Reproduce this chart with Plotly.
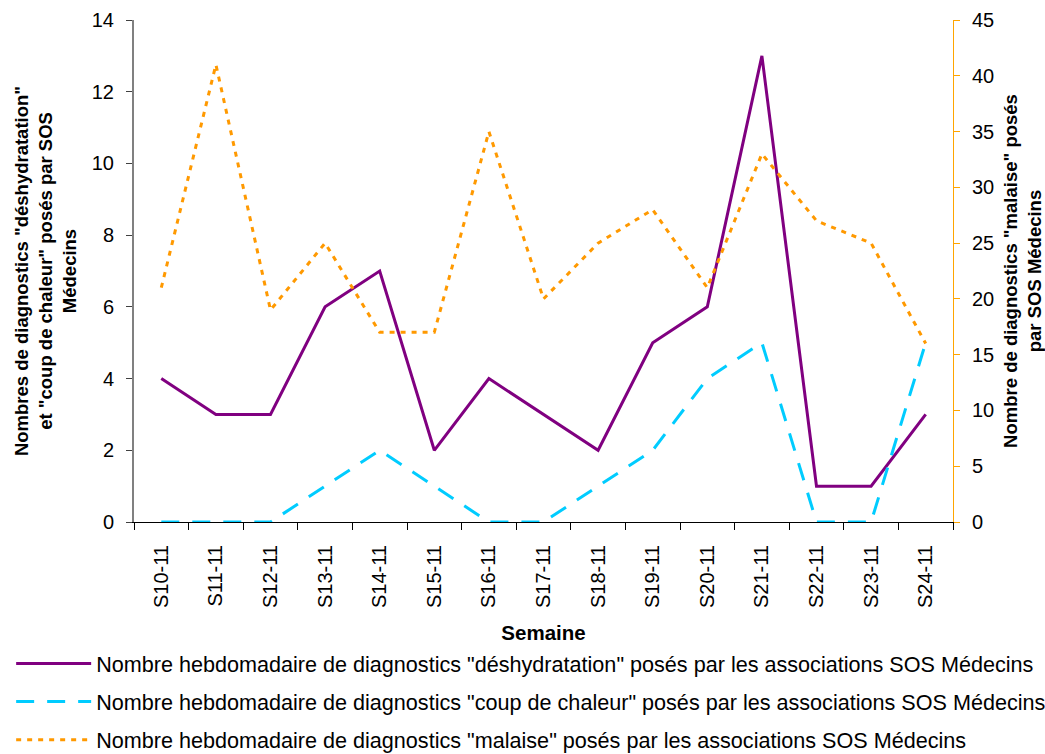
import plotly.graph_objects as go

semaines = ["S10-11", "S11-11", "S12-11", "S13-11", "S14-11", "S15-11", "S16-11",
            "S17-11", "S18-11", "S19-11", "S20-11", "S21-11", "S22-11", "S23-11", "S24-11"]
deshydratation = [4, 3, 3, 6, 7, 2, 4, 3, 2, 5, 6, 13, 1, 1, 3]
coup_de_chaleur = [0, 0, 0, 1, 2, 1, 0, 0, 1, 2, 4, 5, 0, 0, 5]
malaise = [21, 41, 19, 25, 17, 17, 35, 20, 25, 28, 21, 33, 27, 25, 16]

names = [
    'Nombre hebdomadaire de diagnostics "déshydratation" posés par les associations SOS Médecins',
    'Nombre hebdomadaire de diagnostics "coup de chaleur" posés par les associations SOS Médecins',
    'Nombre hebdomadaire de diagnostics "malaise" posés par les associations SOS Médecins',
]

FONT = "Liberation Sans, Arial, sans-serif"

fig = go.Figure()
fig.add_trace(go.Scatter(x=semaines, y=deshydratation, mode="lines", name=names[0],
                         line=dict(color="#800080", width=3), legendgroup="a"))
fig.add_trace(go.Scatter(x=semaines, y=coup_de_chaleur, mode="lines", name=names[1],
                         line=dict(color="#00CCFF", width=3, dash="18px,13px"), legendgroup="b"))
fig.add_trace(go.Scatter(x=semaines, y=malaise, mode="lines", name=names[2], yaxis="y2",
                         line=dict(color="#FF9900", width=3, dash="5px,6px"), legendgroup="c"))

fig.update_layout(
    width=1045, height=754,
    margin=dict(l=134, r=92, t=20, b=232, autoexpand=False),
    paper_bgcolor="white", plot_bgcolor="white",
    font=dict(family=FONT, size=20, color="black"),
    showlegend=True,
    legend=dict(
        x=-0.150, y=-0.476,
        xanchor="left", yanchor="bottom",
        font=dict(size=21.6), itemwidth=75, tracegroupgap=7,
        bgcolor="rgba(0,0,0,0)",
    ),
    xaxis=dict(
        type="category", range=[-0.5, 14.5], tickangle=-90, automargin=False,
        showline=True, linecolor="black", linewidth=1,
        ticks="outside", ticklen=7, tickcolor="black", tickson="boundaries",
        showgrid=False, zeroline=False, ticklabelstandoff=14,
        tickfont=dict(size=20),
        title=dict(text="<b>Semaine</b>", font=dict(size=20.5), standoff=18),
    ),
    yaxis=dict(
        range=[0, 14], dtick=2, showgrid=False, zeroline=False, automargin=False,
        showline=True, linecolor="#808080", linewidth=2,
        ticks="outside", ticklen=6, tickcolor="#404040", ticklabelstandoff=8,
        tickfont=dict(size=20),
        title=dict(text='<b>Nombres de diagnostics "déshydratation"<br>et "coup de chaleur" posés par SOS<br>Médecins</b>',
                   font=dict(size=18.5), standoff=10),
    ),
    yaxis2=dict(
        range=[0, 45], dtick=5, overlaying="y", side="right", showgrid=False, zeroline=False,
        automargin=False,
        showline=True, linecolor="#FFA500", linewidth=1,
        ticks="outside", ticklen=6, tickcolor="#FFA500", ticklabelstandoff=8,
        tickfont=dict(size=20),
        title=dict(text='<b>Nombre de diagnostics "malaise" posés<br>par SOS Médecins</b>',
                   font=dict(size=18.5), standoff=16),
    ),
)

fig.write_html(
    "out.html",
    config={"displayModeBar": False},
    post_script="document.body.style.margin='0';document.body.style.overflow='hidden';",
)
